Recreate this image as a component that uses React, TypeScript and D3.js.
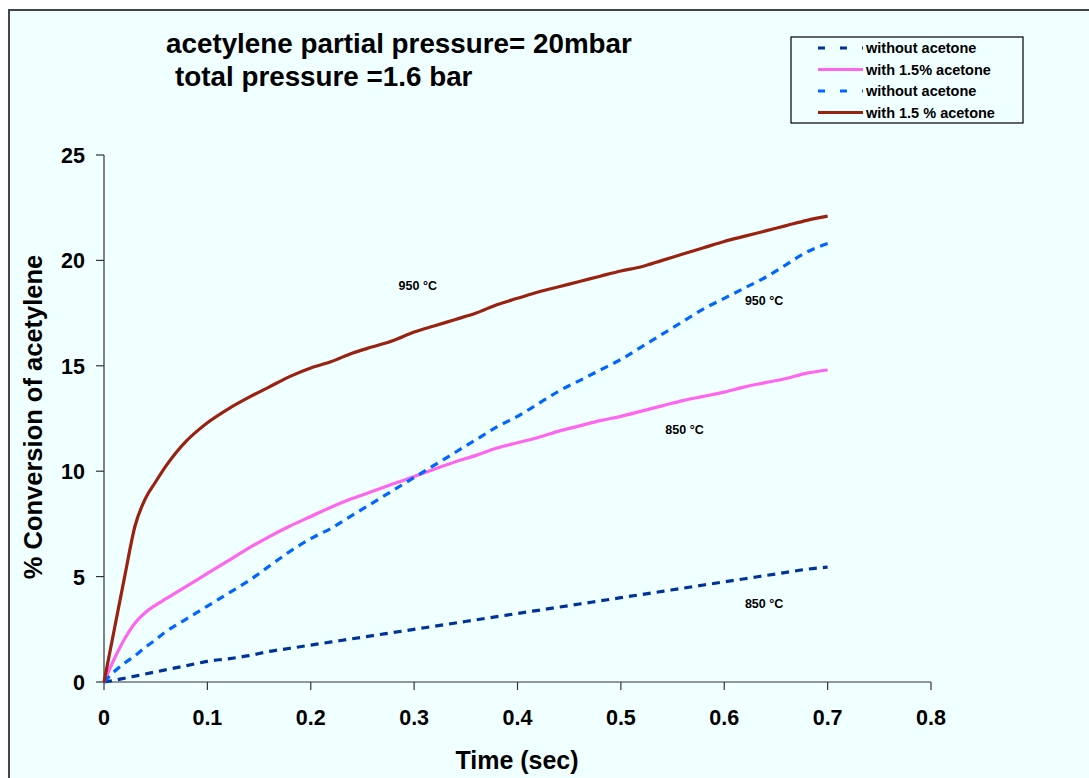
import * as d3 from 'd3';

// time points (sec)
const times = [
  0, 0.01, 0.02, 0.03, 0.04, 0.05, 0.06, 0.07, 0.08, 0.09, 0.1,
  0.12, 0.14, 0.16, 0.18, 0.2, 0.22, 0.24, 0.26, 0.28, 0.3,
  0.32, 0.34, 0.36, 0.38, 0.4, 0.42, 0.44, 0.46, 0.48, 0.5,
  0.52, 0.54, 0.56, 0.58, 0.6, 0.62, 0.64, 0.66, 0.68, 0.7,
];

// 850 °C without acetone
const darkBlue850 = [
  0, 0.08, 0.18, 0.28, 0.38, 0.48, 0.58, 0.68, 0.78, 0.88, 0.98,
  1.1, 1.25, 1.45, 1.6, 1.75, 1.9, 2.05, 2.2, 2.35, 2.5,
  2.65, 2.8, 2.95, 3.1, 3.25, 3.4, 3.55, 3.7, 3.85, 4.0,
  4.15, 4.3, 4.45, 4.6, 4.75, 4.9, 5.05, 5.2, 5.35, 5.45,
];
// 850 °C with 1.5% acetone
const pink850 = [
  0, 1.1, 2.05, 2.8, 3.3, 3.65, 3.95, 4.25, 4.55, 4.85, 5.15,
  5.75, 6.35, 6.9, 7.4, 7.85, 8.3, 8.7, 9.05, 9.4, 9.75,
  10.1, 10.45, 10.75, 11.1, 11.35, 11.6, 11.9, 12.15, 12.4, 12.6,
  12.85, 13.1, 13.35, 13.55, 13.75, 14.0, 14.2, 14.4, 14.65, 14.8,
];
// 950 °C without acetone
const lightBlue950 = [
  0, 0.5, 0.9, 1.25, 1.65, 2.0, 2.4, 2.7, 3.0, 3.3, 3.6,
  4.2, 4.8, 5.5, 6.2, 6.8, 7.3, 7.9, 8.5, 9.1, 9.7,
  10.3, 10.9, 11.5, 12.1, 12.6, 13.2, 13.8, 14.3, 14.8, 15.3,
  15.9, 16.5, 17.1, 17.7, 18.2, 18.7, 19.2, 19.8, 20.4, 20.8,
];
// 950 °C with 1.5 % acetone
const brown950 = [
  0, 2.5, 5.0, 7.4, 8.7, 9.5, 10.25, 10.9, 11.45, 11.9, 12.3,
  12.95, 13.5, 14.0, 14.5, 14.9, 15.2, 15.6, 15.9, 16.2, 16.6,
  16.9, 17.2, 17.5, 17.9, 18.2, 18.5, 18.75, 19.0, 19.25, 19.5,
  19.7, 20.0, 20.3, 20.6, 20.9, 21.15, 21.4, 21.65, 21.9, 22.1,
];

const xTicks = [0, 0.1, 0.2, 0.3, 0.4, 0.5, 0.6, 0.7, 0.8];
const yTicks = [0, 5, 10, 15, 20, 25];

const seriesList = [
  { name: 'without acetone', values: darkBlue850, color: '#003399', dash: '8 6' },
  { name: 'with 1.5% acetone', values: pink850, color: '#FF66F0', dash: null },
  { name: 'without acetone', values: lightBlue950, color: '#0066FF', dash: '8 6' },
  { name: 'with 1.5 % acetone', values: brown950, color: '#992211', dash: null },
];

const annotations = [
  { t: 0.285, v: 18.6, text: '950 °C' },
  { t: 0.62, v: 17.9, text: '950 °C' },
  { t: 0.543, v: 11.75, text: '850 °C' },
  { t: 0.62, v: 3.5, text: '850 °C' },
];

const FONT = 'Arial, "Liberation Sans", sans-serif';

export default function App() {
  const width = 1089;
  const height = 778;
  const marginLeft = 104;
  const marginRight = 931;
  const marginTop = 155;
  const marginBottom = 682;

  const x = d3.scaleLinear().domain([0, 0.8]).range([marginLeft, marginRight]);
  const y = d3.scaleLinear().domain([0, 25]).range([marginBottom, marginTop]);

  const line = d3.line<number>()
    .x((_, i) => x(times[i]))
    .y((d) => y(d))
    .curve(d3.curveMonotoneX);

  const legendX = 791;
  const legendY = 37;

  return (
    <svg width={width} height={height} style={{ position: 'absolute', left: 0, top: 0 }}>
      <rect x={0} y={0} width={width} height={height} fill="#ffffff" />
      <rect x={9} y={10} width={width + 10} height={height + 10} fill="#F0FFFF" stroke="#444" strokeWidth={2} />

      <text x={166} y={53} fontFamily={FONT} fontWeight="bold" fontSize={27.8} fill="#000">
        acetylene partial pressure= 20mbar
      </text>
      <text x={175} y={86} fontFamily={FONT} fontWeight="bold" fontSize={27.8} fill="#000">
        total pressure =1.6 bar
      </text>

      {/* axes */}
      <line x1={marginLeft} x2={marginLeft} y1={marginTop} y2={marginBottom} stroke="#333" strokeWidth={1.2} />
      <line x1={marginLeft} x2={marginRight} y1={marginBottom} y2={marginBottom} stroke="#333" strokeWidth={1.2} />
      {yTicks.map((tick) => (
        <g key={tick}>
          <line x1={marginLeft - 8} x2={marginLeft} y1={y(tick)} y2={y(tick)} stroke="#333" strokeWidth={1.2} />
          <text x={85} y={y(tick) + 8} textAnchor="end" fontFamily={FONT} fontWeight="bold" fontSize={21.5}>{tick}</text>
        </g>
      ))}
      {xTicks.map((tick) => (
        <g key={tick}>
          <line x1={x(tick)} x2={x(tick)} y1={marginBottom} y2={marginBottom + 8} stroke="#333" strokeWidth={1.2} />
          <text x={x(tick)} y={725} textAnchor="middle" fontFamily={FONT} fontWeight="bold" fontSize={21.5}>{tick}</text>
        </g>
      ))}
      <text x={517} y={769} textAnchor="middle" fontFamily={FONT} fontWeight="bold" fontSize={25}>Time (sec)</text>
      <text transform={`translate(42, 417) rotate(-90)`} textAnchor="middle" fontFamily={FONT} fontWeight="bold" fontSize={25.5}>
        % Conversion of acetylene
      </text>

      {/* series */}
      {seriesList.map((s, i) => (
        <path key={i} d={line(s.values) || ''} fill="none" stroke={s.color} strokeWidth={3.2}
          strokeDasharray={s.dash || undefined} />
      ))}

      {annotations.map((a, i) => (
        <text key={i} x={x(a.t)} y={y(a.v)} fontFamily={FONT} fontWeight="bold" fontSize={12.5}>{a.text}</text>
      ))}

      {/* legend */}
      <rect x={legendX} y={legendY} width={232} height={86} fill="#F0FFFF" stroke="#000" strokeWidth={1.2} />
      {seriesList.map((s, i) => {
        const ly = legendY + 11 + i * 21.5;
        return (
          <g key={i}>
            <line x1={818} x2={863} y1={ly} y2={ly} stroke={s.color} strokeWidth={3}
              strokeDasharray={s.dash ? '7 15' : undefined} />
            <text x={866} y={ly + 5} fontFamily={FONT} fontWeight="bold" fontSize={14.5}>{s.name}</text>
          </g>
        );
      })}
    </svg>
  );
}
